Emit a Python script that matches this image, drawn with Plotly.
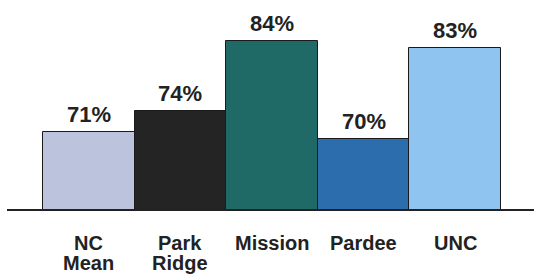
import plotly.graph_objects as go

categories = ["NC Mean", "Park Ridge", "Mission", "Pardee", "UNC"]
values = [71, 74, 84, 70, 83]
label_lines = [["NC", "Mean"], ["Park", "Ridge"], ["Mission"], ["Pardee"], ["UNC"]]
colors = ["#bcc3dc", "#242424", "#1f6a67", "#2b6dad", "#8ec4ef"]

W, H = 534, 274
FONT = "Liberation Sans, Arial, sans-serif"

fig = go.Figure(go.Bar(
    x=categories, y=values,
    marker=dict(color=colors, line=dict(color="#1a1a1a", width=1)),
    width=1.0,
    hoverinfo="skip",
))

ann = []
for c, v in zip(categories, values):
    ann.append(dict(x=c, y=v, xref="x", yref="y", text=f"<b>{v}%</b>",
                    showarrow=False, yanchor="bottom", yshift=3,
                    font=dict(family=FONT, size=22, color="#222222")))
for c, lines in zip(categories, label_lines):
    for i, t in enumerate(lines):
        ann.append(dict(x=c, y=0, xref="x", yref="paper", text=f"<b>{t}</b>",
                        showarrow=False, yanchor="middle", yshift=-34 - 20 * i,
                        font=dict(family=FONT, size=20, color="#222222")))

fig.update_layout(
    width=W, height=H,
    margin=dict(l=7, r=0, t=3, b=65),
    paper_bgcolor="white", plot_bgcolor="white",
    showlegend=False, bargap=0,
    annotations=ann,
    xaxis=dict(range=[-0.893, 4.86], showticklabels=False, showgrid=False,
               zeroline=False, showline=True, linecolor="#222222", linewidth=1.5,
               ticks="", fixedrange=True),
    yaxis=dict(range=[60, 89.43], visible=False, showgrid=False, fixedrange=True),
)

fig.write_html("out.html", config={"displayModeBar": False},
               post_script="document.body.style.margin='0';")
